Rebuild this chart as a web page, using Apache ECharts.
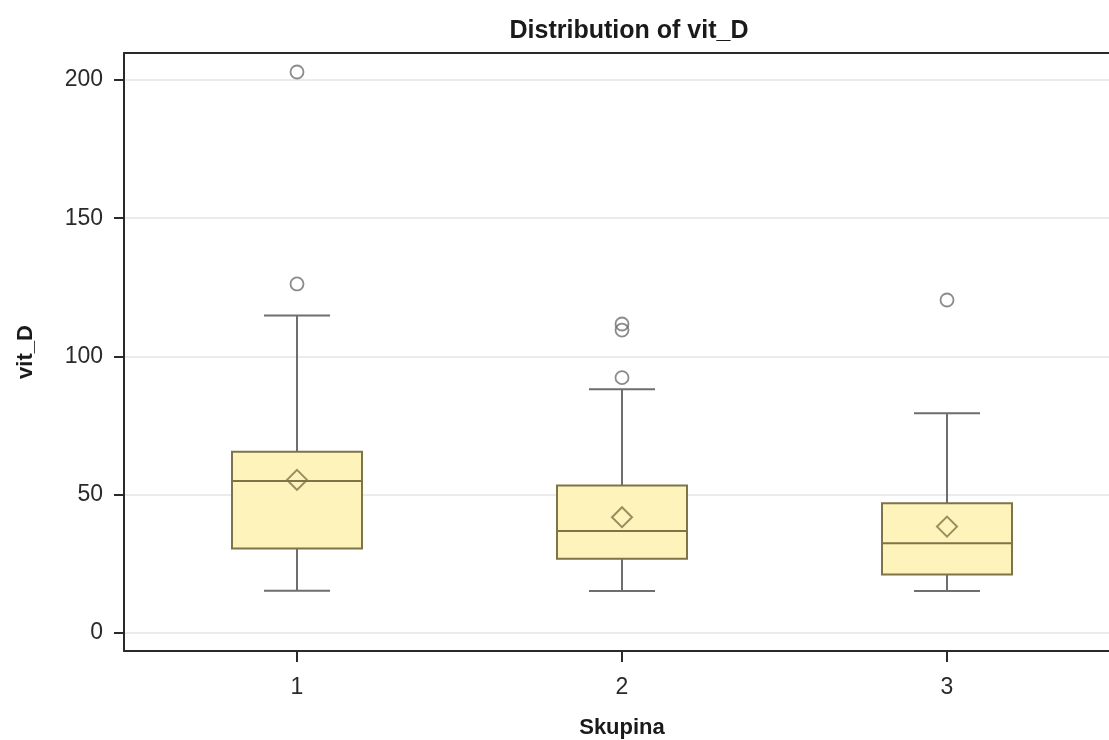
<!DOCTYPE html>
<html>
<head>
<meta charset="utf-8">
<title>Distribution of vit_D</title>
<script src="https://cdn.jsdelivr.net/npm/echarts@6/dist/echarts.min.js"></script>
<style>
  html, body { margin: 0; padding: 0; background: #ffffff; }
  #chart { width: 1109px; height: 740px; }
</style>
</head>
<body>
<div id="chart"></div>
<script>
// Groups on the x axis
const categories = ['1', '2', '3'];

// Box statistics per group
const whiskerLow  = [15.2, 15.1, 15.1];
const q1          = [30.5, 26.8, 21.1];
const median      = [54.9, 36.8, 32.4];
const q3          = [65.5, 53.3, 46.8];
const whiskerHigh = [114.8, 88.1, 79.4];
const means       = [55.3, 41.8, 38.4];

// Outlying observations per group
const outliers1 = [126.2, 202.9];
const outliers2 = [92.3, 109.5, 111.7];
const outliers3 = [120.4];

// Y axis tick values
const yTicks = [0, 50, 100, 150, 200];

const yMin = -6.62;
const yMax = 209.77;

const FONT = '"Liberation Sans", Arial, sans-serif';
const BOX_FILL = '#fef3bb';
const BOX_EDGE = '#7d7448';
const WHISKER = '#6e6e6e';
const AXIS = '#2a2a2a';

// whisker layer: stems from the median out to the whisker ends, narrow caps
// (the part inside the box is covered by the opaque box layer)
const whiskerData = categories.map((c, i) =>
  [whiskerLow[i], median[i], median[i], median[i], whiskerHigh[i]]);
// box layer: interquartile box and median only
const boxData = categories.map((c, i) =>
  [q1[i], q1[i], median[i], q3[i], q3[i]]);

const outlierData = [];
[outliers1, outliers2, outliers3].forEach((list, i) => {
  list.forEach(v => outlierData.push([categories[i], v]));
});
const meanData = categories.map((c, i) => [c, means[i]]);

const chart = echarts.init(document.getElementById('chart'), null, { renderer: 'canvas' });

const hiddenY = (idx) => ({
  type: 'value', gridIndex: idx, min: yMin, max: yMax,
  axisLine: { show: false, onZero: false }, axisTick: { show: false },
  axisLabel: { show: false }, splitLine: { show: false }
});

chart.setOption({
  animation: false,
  backgroundColor: '#ffffff',
  title: {
    text: 'Distribution of vit_D',
    left: 624,
    textAlign: 'center',
    top: 14,
    textStyle: { fontFamily: FONT, fontSize: 25, fontWeight: 'bold', color: '#1a1a1a' }
  },
  grid: [
    // frame, y scale and gridlines
    { left: 124, top: 53, bottom: 89, right: 0, containLabel: false, outerBoundsMode: 'none' },
    // whisker layer
    { left: 134.5, top: 53, bottom: 89, width: 975, containLabel: false, outerBoundsMode: 'none' },
    // box layer, means and outliers
    { left: 134.5, top: 53, bottom: 89, width: 975, containLabel: false, outerBoundsMode: 'none' }
  ],
  xAxis: [
    {
      type: 'value', gridIndex: 0, position: 'bottom', min: 0, max: 1,
      axisLine: { show: true, onZero: false, lineStyle: { color: AXIS, width: 2 } },
      axisTick: { show: false }, axisLabel: { show: false }, splitLine: { show: false }
    },
    {
      type: 'value', gridIndex: 0, position: 'top', min: 0, max: 1,
      axisLine: { show: true, onZero: false, lineStyle: { color: AXIS, width: 2 } },
      axisTick: { show: false }, axisLabel: { show: false }, splitLine: { show: false }
    },
    {
      type: 'category', gridIndex: 1, position: 'bottom', data: categories, boundaryGap: true,
      axisLine: { show: false, onZero: false },
      axisTick: { show: true, inside: false, alignWithLabel: true, length: 11, lineStyle: { color: AXIS, width: 2 } },
      axisLabel: { show: true, inside: false, margin: 25, fontFamily: FONT, fontSize: 23, color: '#2a2a2a' },
      splitLine: { show: false },
      name: 'Skupina',
      nameLocation: 'middle',
      nameGap: 66,
      nameTextStyle: { fontFamily: FONT, fontSize: 22, fontWeight: 'bold', color: '#1a1a1a' }
    },
    {
      type: 'category', gridIndex: 2, position: 'bottom', data: categories, boundaryGap: true,
      axisLine: { show: false, onZero: false }, axisTick: { show: false },
      axisLabel: { show: false }, splitLine: { show: false }
    }
  ],
  yAxis: [
    {
      type: 'value', gridIndex: 0, min: yMin, max: yMax,
      axisLine: { show: true, onZero: false, lineStyle: { color: AXIS, width: 2 } },
      axisTick: { show: true, length: 10, customValues: yTicks, lineStyle: { color: AXIS, width: 2 } },
      axisLabel: { show: true, margin: 21, customValues: yTicks, fontFamily: FONT, fontSize: 23, color: '#2a2a2a' },
      splitLine: { show: true, lineStyle: { color: '#ebebeb', width: 2 } },
      name: 'vit_D',
      nameLocation: 'middle',
      nameGap: 87,
      nameTextStyle: { fontFamily: FONT, fontSize: 22, fontWeight: 'bold', color: '#1a1a1a' }
    },
    hiddenY(1),
    hiddenY(2)
  ],
  series: [
    {
      name: 'whiskers',
      type: 'boxplot',
      xAxisIndex: 2, yAxisIndex: 1,
      boxWidth: [66, 66],
      data: whiskerData,
      itemStyle: { color: 'transparent', borderColor: WHISKER, borderWidth: 2 },
      emphasis: { disabled: true },
      z: 2
    },
    {
      name: 'box',
      type: 'boxplot',
      xAxisIndex: 3, yAxisIndex: 2,
      boxWidth: [130, 130],
      data: boxData,
      itemStyle: { color: BOX_FILL, borderColor: BOX_EDGE, borderWidth: 2 },
      emphasis: { disabled: true },
      z: 3
    },
    {
      name: 'mean',
      type: 'scatter',
      xAxisIndex: 3, yAxisIndex: 2,
      symbol: 'diamond',
      symbolSize: [20, 20],
      data: meanData,
      itemStyle: { color: 'transparent', borderColor: BOX_EDGE, borderWidth: 2 },
      z: 4
    },
    {
      name: 'outliers',
      type: 'scatter',
      xAxisIndex: 3, yAxisIndex: 2,
      symbol: 'circle',
      symbolSize: 13,
      data: outlierData,
      itemStyle: { color: 'transparent', borderColor: WHISKER, borderWidth: 1.8 },
      z: 4
    }
  ]
});
</script>
</body>
</html>
